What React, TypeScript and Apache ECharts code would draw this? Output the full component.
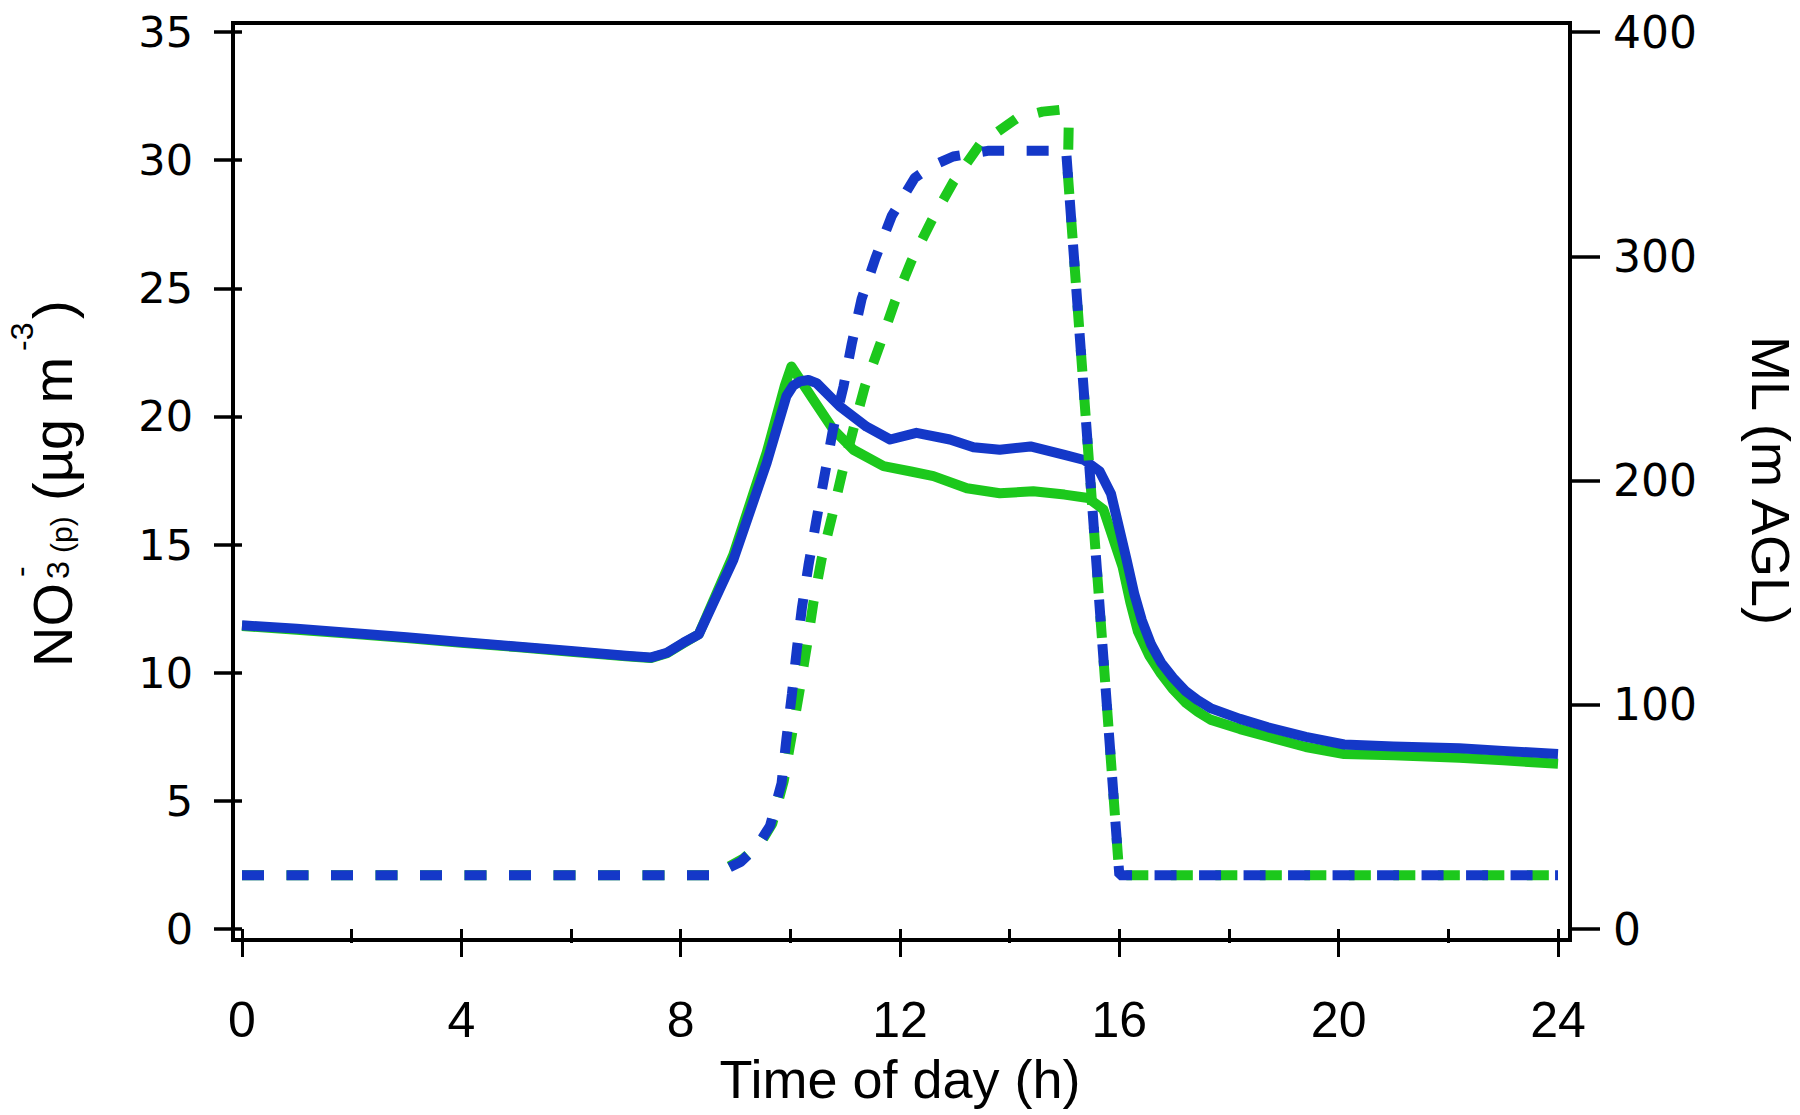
import React, { useEffect, useRef } from "react";
import * as echarts from "echarts";

// ---- data (hour of day) ----
const blueSolidT = [0, 1, 2, 3, 4, 5, 6, 7, 7.45, 7.75, 8.05, 8.33, 8.96, 9.57, 9.93, 10.05, 10.18, 10.33, 10.48, 10.9, 11.39, 11.82, 12.3, 12.91, 13.34, 13.82, 14.38, 15.0, 15.36, 15.64, 15.85, 16.13, 16.27, 16.41, 16.58, 16.76, 16.98, 17.2, 17.43, 17.66, 18.2, 18.71, 19.4, 20.1, 21, 22.2, 23, 24];
const blueSolidV = [11.85, 11.72, 11.55, 11.38, 11.2, 11.02, 10.85, 10.66, 10.59, 10.78, 11.17, 11.5, 14.4, 18.2, 20.8, 21.2, 21.37, 21.42, 21.3, 20.4, 19.6, 19.1, 19.36, 19.1, 18.8, 18.7, 18.83, 18.5, 18.3, 17.86, 16.97, 14.43, 13.1, 12.05, 11.1, 10.4, 9.8, 9.3, 8.93, 8.62, 8.2, 7.87, 7.5, 7.2, 7.12, 7.05, 6.95, 6.83];

const greenSolidT = [0, 1, 2, 3, 4, 5, 6, 7, 7.45, 7.75, 8.05, 8.33, 8.96, 9.57, 9.9, 10.02, 10.42, 10.78, 11.15, 11.7, 12.2, 12.61, 13.22, 13.82, 14.43, 15.0, 15.43, 15.71, 16.06, 16.2, 16.34, 16.55, 16.76, 16.98, 17.2, 17.43, 17.66, 18.2, 18.71, 19.4, 20.1, 21, 22.2, 23, 24];
const greenSolidV = [11.82, 11.68, 11.52, 11.35, 11.17, 11.0, 10.82, 10.64, 10.57, 10.76, 11.15, 11.5, 14.6, 18.6, 21.2, 21.95, 20.65, 19.5, 18.7, 18.06, 17.85, 17.67, 17.2, 17.0, 17.08, 16.95, 16.82, 16.37, 14.13, 12.75, 11.6, 10.65, 9.96, 9.35, 8.85, 8.48, 8.17, 7.8, 7.5, 7.1, 6.83, 6.78, 6.68, 6.58, 6.45];

const blueMLT = [0, 8.6, 9.1, 9.4, 9.63, 9.84, 9.93, 10.03, 10.12, 10.21, 10.33, 10.48, 10.63, 10.78, 10.97, 11.12, 11.3, 11.55, 11.85, 12.27, 12.6, 12.97, 13.6, 15.03, 15.06, 16.0, 24];
const blueMLH = [24, 24, 30, 37, 46, 65, 85, 105, 125, 143, 162, 183, 203, 223, 242, 261, 281, 299, 318, 335, 340.5, 344.5, 347, 347, 337, 24, 24];

const greenMLT = [0, 8.6, 9.15, 9.45, 9.67, 9.88, 9.98, 10.06, 10.18, 10.3, 10.42, 10.57, 10.76, 10.94, 11.15, 11.36, 11.64, 11.91, 12.21, 12.58, 12.97, 13.46, 14.13, 14.6, 14.92, 15.08, 15.06, 16.0, 24];
const greenMLH = [24, 24, 31.5, 38, 47, 66, 80, 91, 108, 126, 145.5, 165, 184, 203, 223, 242, 261, 280, 298, 316, 333, 350, 361.5, 364.5, 365.3, 362, 337, 24, 24];

// ---- axes ----
const xRange = [0, 24];
const xStep = 4;
const leftRange = [0, 35];
const leftStep = 5;
const rightRange = [0, 400];
const rightStep = 100;

const xTitle = "Time of day (h)";
const rightTitle = "ML (m AGL)";

const BLUE = "#1438C8";
const GREEN = "#1CC81C";
const FONT = "'Liberation Sans', Arial, sans-serif";
const NARROW = "'Liberation Sans Narrow', 'Arial Narrow', 'Liberation Sans', sans-serif";
const WIDE = "'DejaVu Sans', 'Liberation Sans', sans-serif";

const zip = (t: number[], v: number[]) => t.map((x, i) => [x, v[i]]);

function txt(text: string, x: number, y: number, fontSize: number) {
  return {
    type: "text",
    x,
    y,
    style: {
      text,
      fontSize,
      fontFamily: FONT,
      fill: "#000",
      align: "left",
      verticalAlign: "middle",
      textAlign: "left",
      textVerticalAlign: "middle",
    },
  };
}

export default function App() {
  const ref = useRef<HTMLDivElement>(null);

  useEffect(() => {
    document.body.style.margin = "0";
    const chart = echarts.init(ref.current!, null, { renderer: "svg" });
    const tickStyle = { color: "#000", width: 3 };
    const option: any = {
      animation: false,
      backgroundColor: "#fff",
      grid: { left: 242, top: 32, width: 1316, height: 897, containLabel: false, outerBoundsMode: "none" },
      xAxis: {
        type: "value",
        min: xRange[0],
        max: xRange[1],
        interval: xStep,
        offset: 11,
        axisLine: { show: false },
        axisTick: { show: true, inside: false, length: 28, lineStyle: tickStyle },
        minorTick: { show: true, splitNumber: 2, length: 14, lineStyle: tickStyle },
        splitLine: { show: false },
        minorSplitLine: { show: false },
        axisLabel: { margin: 55, fontSize: 50, fontFamily: NARROW, color: "#000" },
        name: xTitle,
        nameLocation: "middle",
        nameGap: 112,
        nameTextStyle: { fontSize: 54, fontFamily: FONT, color: "#000" },
      },
      yAxis: [
        {
          type: "value",
          position: "left",
          min: leftRange[0],
          max: leftRange[1],
          interval: leftStep,
          offset: 9,
          axisLine: { show: false },
          axisTick: { show: true, inside: false, length: 28, lineStyle: { color: "#000", width: 3.5 } },
          splitLine: { show: false },
          axisLabel: { margin: 40, fontSize: 43, fontFamily: WIDE, color: "#000" },
        },
        {
          type: "value",
          position: "right",
          min: rightRange[0],
          max: rightRange[1],
          interval: rightStep,
          offset: 12,
          axisLine: { show: false },
          axisTick: { show: true, inside: false, length: 30, lineStyle: { color: "#000", width: 3.5 } },
          splitLine: { show: false },
          axisLabel: { margin: 43, fontSize: 44, fontFamily: WIDE, color: "#000" },
          name: rightTitle,
          nameLocation: "middle",
          nameRotate: -90,
          nameGap: 174,
          nameTextStyle: { fontSize: 54, fontFamily: FONT, color: "#000" },
        },
      ],
      series: [
        {
          type: "line",
          name: "NO3 green",
          yAxisIndex: 0,
          data: zip(greenSolidT, greenSolidV),
          symbol: "none",
          showSymbol: false,
          clip: false,
          z: 2,
          lineStyle: { color: GREEN, width: 10, join: "round" },
        },
        {
          type: "line",
          name: "NO3 blue",
          yAxisIndex: 0,
          data: zip(blueSolidT, blueSolidV),
          symbol: "none",
          showSymbol: false,
          clip: false,
          z: 3,
          lineStyle: { color: BLUE, width: 10, join: "round" },
        },
        {
          type: "line",
          name: "ML green",
          yAxisIndex: 1,
          data: zip(greenMLT, greenMLH),
          symbol: "none",
          showSymbol: false,
          clip: false,
          z: 4,
          lineStyle: { color: GREEN, width: 10, type: [22, 22.5] },
        },
        {
          type: "line",
          name: "ML blue",
          yAxisIndex: 1,
          data: zip(blueMLT, blueMLH),
          symbol: "none",
          showSymbol: false,
          clip: false,
          z: 5,
          lineStyle: { color: BLUE, width: 10, type: [22, 22.5] },
        },
      ],
      graphic: [
        {
          type: "rect",
          shape: { x: 233, y: 23, width: 1337, height: 917 },
          style: { fill: "none", stroke: "#000", lineWidth: 4 },
          z: 10,
        },
        {
          type: "group",
          x: 0,
          y: 667,
          rotation: Math.PI / 2,
          children: [
            txt("NO", 0, 52.5, 56),
            txt("3", 88, 57.5, 32),
            txt("-", 90, 20, 32),
            txt("(p)", 114, 61.4, 30),
            txt("(\u00B5g m", 166, 52.5, 56),
            txt("-3", 316, 22, 32),
            txt(")", 348, 52.5, 56),
          ],
        },
      ],
    };
    chart.setOption(option);
    return () => chart.dispose();
  }, []);

  return (
    <div
      ref={ref}
      style={{ position: "fixed", left: 0, top: 0, width: 1800, height: 1115, background: "#fff" }}
    />
  );
}
